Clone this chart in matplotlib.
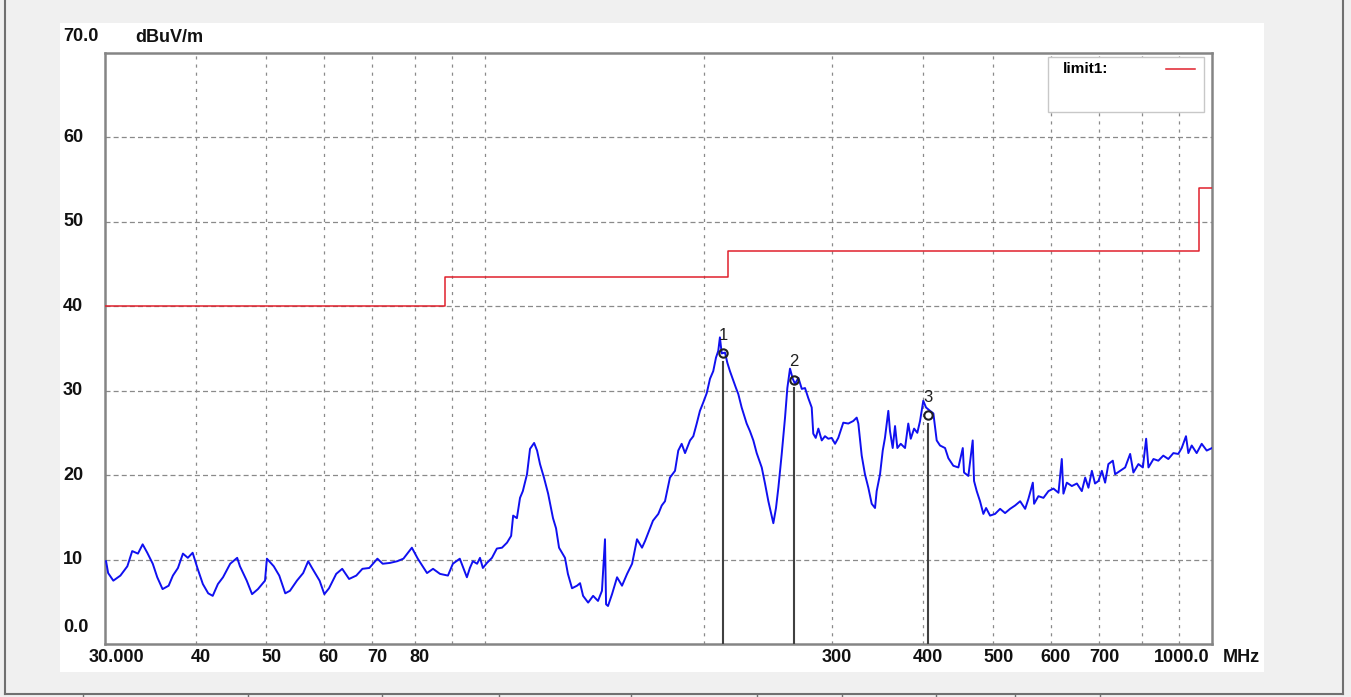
import matplotlib
matplotlib.use('Agg')
import matplotlib.pyplot as plt
from matplotlib.lines import Line2D
from matplotlib.patches import Rectangle
from matplotlib.transforms import offset_copy, blended_transform_factory

# measured trace, MHz / dBuV/m
freq = [30.1, 30.3, 30.8, 31.5, 32.2, 32.7, 33.3, 33.8, 34.3, 34.9,
        35.4, 36.0, 36.7, 37.2, 37.8, 38.4, 39.0, 39.6, 40.2, 40.9,
        41.6, 42.2, 42.9, 43.6, 44.6, 45.6, 46.0, 47.0, 47.8, 48.7,
        49.8, 50.1, 51.2, 52.1, 53.1, 53.9, 55.1, 56.2, 57.1, 57.8,
        59.2, 60.1, 61.0, 62.4, 63.6, 65.0, 66.5, 67.8, 69.3, 71.1,
        72.3, 74.0, 75.7, 77.2, 79.3, 80.8, 83.2, 84.8, 86.7, 88.9,
        90.3, 92.3, 94.4,
        95.3, 96.2, 97.5, 98.4, 99.3, 100.6, 102.2, 103.8, 105.5, 107.2,
        108.6, 109.3, 110.6, 111.7, 112.7, 114.2, 115.3, 116.8, 117.9, 119.0,
        120.5, 122.1, 124.0, 125.2, 126.4, 128.8, 130.0, 131.7, 133.8, 135.1,
        136.4, 138.6, 140.8, 143.0, 144.8, 146.2, 146.7, 147.6, 149.5, 151.9,
        154.3, 156.8, 159.3, 161.8, 164.4, 166.0, 168.6, 170.2,
        173.1, 175.0, 176.8, 179.6, 182.5, 184.4, 186.4, 188.4, 191.4, 193.4,
        195.5, 197.5, 199.6, 201.8, 203.9, 206.0, 207.8, 209.3, 210.4, 211.6,
        213.8, 215.4, 217.2, 219.5, 221.4, 223.0, 225.4, 229.0, 231.4, 233.9,
        236.4, 240.2, 242.7, 245.3, 247.9, 249.2, 251.3, 253.2, 255.9, 258.6,
        260.5, 262.7, 265.0, 266.9, 269.8, 272.7, 275.5, 278.4, 281.4, 282.8,
        285.0, 287.4, 290.5, 293.5, 296.6, 299.8, 303.0, 306.1,
        311.0, 316.0, 321.0, 324.5, 326.2, 329.7, 333.1, 336.7, 340.3, 343.9,
        345.7, 349.4, 352.4, 354.9, 358.7, 360.6, 363.7, 366.4, 369.1, 373.1,
        378.2, 382.1, 385.1, 389.2, 393.2, 396.6, 400.7, 404.2, 409.4, 413.7,
        418.1, 422.5, 429.3, 433.8, 440.7, 447.8, 454.1, 455.9, 462.2, 468.6,
        470.6, 474.6, 479.6, 484.7, 488.9, 495.1, 503.0, 511.1, 519.2, 527.5,
        536.0,
        544.6, 553.3, 559.1, 566.9, 569.2, 577.0, 586.3, 595.7, 605.2, 614.9,
        621.4, 624.6, 631.4, 641.5, 651.8, 662.1, 669.2, 676.1, 683.5, 690.4,
        697.9, 705.5, 712.8, 720.2, 730.4, 735.8, 747.5, 759.5, 771.6, 779.6,
        792.1, 803.3, 811.7, 817.7, 830.8, 843.6, 857.0, 870.8, 884.8, 898.7,
        908.5, 920.9, 927.8, 937.8, 952.6, 967.9, 983.4, 1000.0]
level = [9.8, 8.4, 7.5, 8.1, 9.2, 11.0, 10.7, 11.8, 10.8, 9.5,
         7.9, 6.5, 6.9, 8.1, 9.0, 10.7, 10.2, 10.8, 9.0, 7.1,
         6.0, 5.7, 7.1, 7.9, 9.5, 10.2, 9.2, 7.5, 5.9, 6.5,
         7.5, 10.1, 9.2, 8.1, 6.0, 6.3, 7.5, 8.4, 9.8, 9.0,
         7.5, 5.9, 6.6, 8.3, 8.9, 7.7, 8.1, 8.9, 9.0, 10.1,
         9.5, 9.6, 9.8, 10.1, 11.4, 10.1, 8.4, 8.9, 8.3, 8.1,
         9.5, 10.1, 7.9,
         9.0, 9.8, 9.5, 10.2, 9.0, 9.6, 10.2, 11.3, 11.4, 12.0,
         12.8, 15.2, 14.9, 17.3, 18.1, 20.1, 23.1, 23.8, 22.9, 21.3,
         19.7, 17.8, 14.9, 13.7, 11.4, 10.2, 8.3, 6.6, 6.9, 7.2,
         5.7, 4.9, 5.7, 5.1, 6.3, 12.4, 4.7, 4.5, 5.9, 7.9,
         6.9, 8.3, 9.5, 12.4, 11.4, 12.2, 13.7, 14.6,
         15.4, 16.4, 16.9, 19.7, 20.5, 22.9, 23.7, 22.6, 24.1, 24.6,
         26.1, 27.6, 28.6, 29.7, 31.4, 32.3, 33.9, 34.7, 36.3, 34.4,
         34.5, 33.3, 32.3, 31.2, 30.3, 29.6, 28.0, 26.1, 25.2, 24.1,
         22.6, 20.9, 19.0, 16.9, 15.2, 14.3, 16.1, 18.5, 22.5, 26.8,
         30.3, 32.6, 31.4, 30.8, 31.5, 30.2, 30.3, 29.1, 28.0, 24.9,
         24.4, 25.5, 24.1, 24.6, 24.3, 24.4, 23.7, 24.4,
         26.2, 26.1, 26.4, 26.8, 26.1, 22.3, 20.1, 18.5, 16.6, 16.1,
         18.1, 20.1, 22.9, 24.4, 27.6, 25.2, 23.2, 25.8, 23.2, 23.7,
         23.2, 26.1, 24.3, 25.5, 25.0, 26.4, 28.8, 28.0, 27.6, 27.3,
         24.1, 23.5, 23.2, 22.0, 21.1, 20.9, 23.2, 20.3, 19.9, 24.1,
         19.3, 18.1, 16.9, 15.4, 16.1, 15.2, 15.4, 16.0, 15.5, 16.0,
         16.4,
         16.9, 16.0, 17.2, 19.1, 16.6, 17.5, 17.3, 18.1, 18.4, 17.9,
         21.9, 17.8, 19.1, 18.7, 19.0, 18.1, 19.7, 18.5, 20.5, 19.0,
         19.3, 20.5, 19.1, 21.3, 21.7, 20.1, 20.5, 20.9, 22.5, 20.3,
         21.3, 20.9, 24.3, 20.9, 21.9, 21.7, 22.3, 21.9, 22.6, 22.5,
         23.2, 24.6, 22.6, 23.5, 22.6, 23.7, 22.9, 23.2]

limit_freq = [30, 88, 216, 960, 1000]
limit_level = [40, 43.5, 46.5, 54, 54]

marker_freq = [212.5, 266.0, 407.0]
marker_level = [34.4, 31.3, 27.1]
marker_name = ['1', '2', '3']

xtick_vals = [30, 40, 50, 60, 70, 80, 300, 400, 500, 600, 700, 1000]
xtick_text = ['30.000', '40', '50', '60', '70', '80', '300', '400', '500', '600', '700', '1000.0']
ytick_vals = [0, 10, 20, 30, 40, 50, 60, 70]
ytick_text = ['0.0', '10', '20', '30', '40', '50', '60', '70.0']
xgrid = [40, 50, 60, 70, 80, 90, 100, 200, 300, 400, 500, 600, 700, 800, 900]
ygrid = [10, 20, 30, 40, 50, 60]

W, H = 1351, 697
fig = plt.figure(figsize=(W / 100, H / 100), dpi=100)
fig.patch.set_facecolor('#f0f0f0')

# white panel behind the chart
fig.add_artist(Rectangle((60 / W, 1 - 672 / H), 1204 / W, 649 / H, transform=fig.transFigure,
                         fc='white', ec='none', zorder=0))
# window border lines
grey = '#707070'
fig.add_artist(Line2D([5 / W, 5 / W], [1 - 694 / H, 1], transform=fig.transFigure, color=grey, lw=1.5))
fig.add_artist(Line2D([1343 / W, 1343 / W], [1 - 694 / H, 1], transform=fig.transFigure, color=grey, lw=1.5))
fig.add_artist(Line2D([5 / W, 1343 / W], [1 - 694 / H, 1 - 694 / H], transform=fig.transFigure, color=grey, lw=1.5))
for px in [83, 248, 382, 499, 631, 757, 842, 936, 1015, 1100]:
    fig.add_artist(Line2D([px / W, px / W], [0, 1 - 694 / H], transform=fig.transFigure, color=grey, lw=1))

ax = fig.add_axes([105 / W, 1 - 644 / H, 1107 / W, 591.3 / H])
ax.set_facecolor('white')
ax.set_xscale('log')
ax.set_xlim(30, 1000)
ax.set_ylim(0, 70)
for s in ax.spines.values():
    s.set_color('#858585')
    s.set_linewidth(1.8)
ax.set_xticks([])
ax.set_yticks([])
ax.minorticks_off()

for g in xgrid:
    ax.axvline(g, color='#8a8a8a', lw=0.9, ls=(0, (2.5, 4)), zorder=1)
for g in ygrid:
    ax.axhline(g, color='#8a8a8a', lw=0.9, ls=(0, (4, 2.5)), zorder=1)

ax.step(limit_freq, limit_level, where='post', color='#e0202c', lw=1.1, zorder=3)
ax.plot(freq, level, color='#1010f0', lw=1.4, zorder=4)

for f, v, n in zip(marker_freq, marker_level, marker_name):
    ax.plot([f, f], [0, v - 1.0], color='#404040', lw=1.5, zorder=5)
    ax.plot(f, v, marker='o', ms=6, mfc='none', mec='#202020', mew=1.5, zorder=6)
    ax.annotate(n, (f, v), xytext=(0, 13), textcoords='offset points', ha='center', va='center',
                fontsize=12, color='#202020', zorder=6, family='Liberation Sans')

# legend box
ax.add_patch(Rectangle((0.8519, 0.8997), 0.1409, 0.093, transform=ax.transAxes,
                       fc='white', ec='#c8c8c8', lw=1, zorder=7))
ax.text(0.8654, 0.9716, 'limit1:', transform=ax.transAxes, ha='left', va='center',
        fontsize=11, fontweight='bold', family='Liberation Sans', zorder=8)
ax.add_line(Line2D([0.9584, 0.9846], [0.9716, 0.9716], transform=ax.transAxes,
                   color='#e0202c', lw=1.1, zorder=8))

tfont = dict(fontsize=13, fontweight='bold', family='Liberation Sans', color='#111111')

# x tick labels
xtr = blended_transform_factory(ax.transData, ax.transAxes)
for v, t in zip(xtick_vals, xtick_text):
    dx = 5
    if t == '30.000':
        dx = 11
    if t == '1000.0':
        dx = -30
    ax.text(v, 0, t, transform=offset_copy(xtr, fig=fig, x=dx, y=-13, units='dots'),
            ha='center', va='center', **tfont)

# y tick labels
ytr = ax.get_yaxis_transform()
for v, t in zip(ytick_vals, ytick_text):
    dy = 0
    if v == 0:
        dy = 16
    if v == 70:
        dy = 16
    ax.text((63 - 105) / 1107, v, t, transform=offset_copy(ytr, fig=fig, x=0, y=dy, units='dots'),
            ha='left', va='center', **tfont)

fig.text(135 / W, 1 - 37 / H, 'dBuV/m', ha='left', va='center', **tfont)
fig.text(1223 / W, 1 - 657 / H, 'MHz', ha='left', va='center', **tfont)

fig.savefig('out.png', dpi=100, facecolor=fig.get_facecolor())
